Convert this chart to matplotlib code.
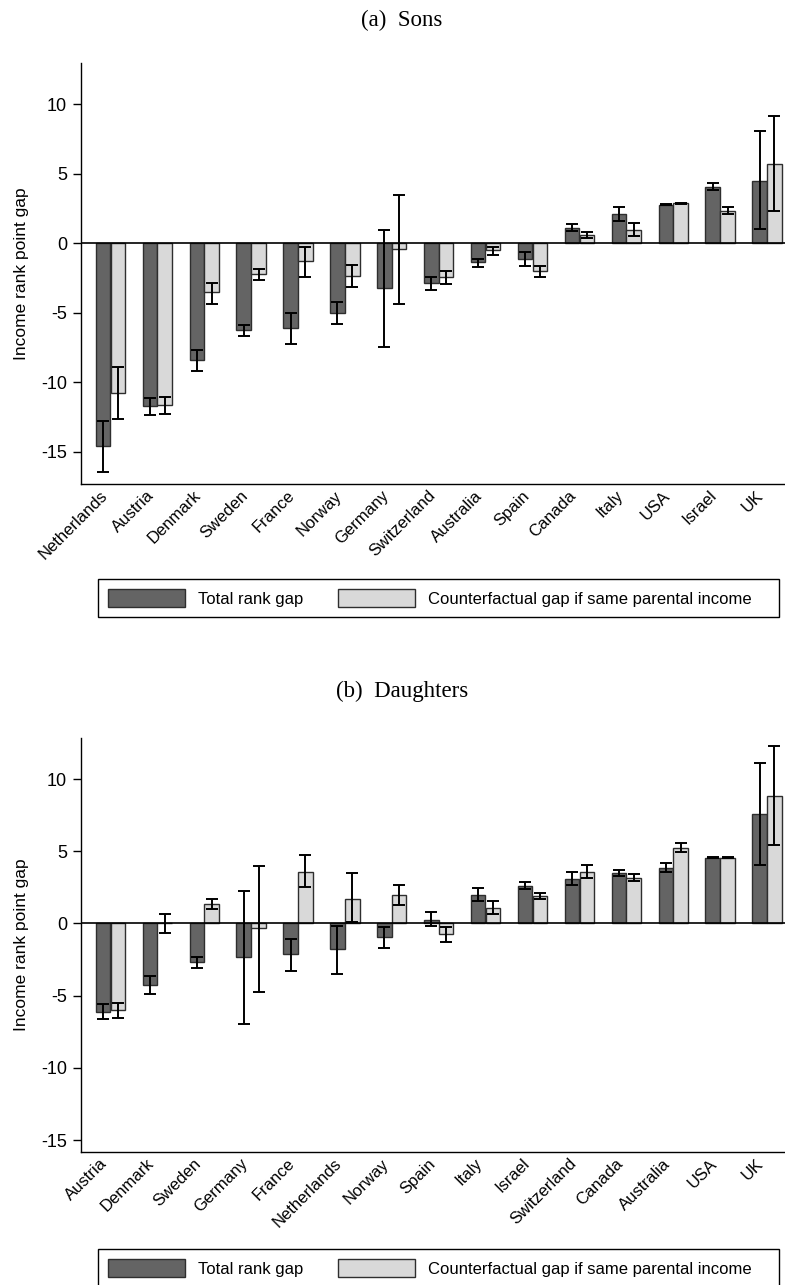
import matplotlib
matplotlib.use('Agg')
import matplotlib.pyplot as plt
import matplotlib.transforms as mtransforms
from matplotlib.patches import Patch, Rectangle
import numpy as np

plt.rcParams['font.family'] = ['Liberation Sans', 'DejaVu Sans']

# (a) Sons
countries_sons = ["Netherlands", "Austria", "Denmark", "Sweden", "France", "Norway", "Germany",
                  "Switzerland", "Australia", "Spain", "Canada", "Italy", "USA", "Israel", "UK"]
total_sons = [-14.58, -11.73, -8.39, -6.27, -6.07, -4.99, -3.23, -2.84, -1.37, -1.11, 1.11, 2.07, 2.77, 4.05, 4.51]
total_sons_lo = [-16.46, -12.36, -9.16, -6.67, -7.25, -5.83, -7.47, -3.37, -1.73, -1.64, 0.89, 1.59, 2.73, 3.81, 1.01]
total_sons_hi = [-12.77, -11.16, -7.66, -5.90, -4.99, -4.22, 0.96, -2.43, -1.13, -0.65, 1.40, 2.58, 2.81, 4.34, 8.07]
cf_sons = [-10.77, -11.66, -3.54, -2.24, -1.28, -2.34, -0.41, -2.46, -0.48, -2.00, 0.58, 0.96, 2.87, 2.29, 5.71]
cf_sons_lo = [-12.65, -12.29, -4.34, -2.65, -2.46, -3.18, -4.34, -2.94, -0.84, -2.46, 0.36, 0.53, 2.83, 2.10, 2.34]
cf_sons_hi = [-8.90, -11.08, -2.84, -1.86, -0.24, -1.57, 3.45, -2.02, -0.24, -1.64, 0.84, 1.45, 2.91, 2.58, 9.13]

# (b) Daughters
countries_daughters = ["Austria", "Denmark", "Sweden", "Germany", "France", "Netherlands", "Norway",
                       "Spain", "Italy", "Israel", "Switzerland", "Canada", "Australia", "USA", "UK"]
total_daughters = [-6.12, -4.27, -2.68, -2.31, -2.15, -1.80, -0.92, 0.25, 1.94, 2.61, 3.09, 3.46, 3.83, 4.55, 7.58]
total_daughters_lo = [-6.65, -4.92, -3.07, -6.97, -3.28, -3.53, -1.69, -0.18, 1.52, 2.38, 2.68, 3.28, 3.58, 4.51, 4.06]
total_daughters_hi = [-5.61, -3.65, -2.36, 2.26, -1.11, -0.16, -0.28, 0.79, 2.42, 2.86, 3.58, 3.72, 4.16, 4.59, 11.13]
cf_daughters = [-6.00, 0.02, 1.32, -0.35, 3.56, 1.71, 1.94, -0.74, 1.06, 1.87, 3.58, 3.16, 5.24, 4.55, 8.80]
cf_daughters_lo = [-6.54, -0.65, 0.97, -4.73, 2.52, 0.09, 1.27, -1.27, 0.67, 1.69, 3.16, 2.96, 4.97, 4.51, 5.40]
cf_daughters_hi = [-5.54, 0.65, 1.69, 3.97, 4.71, 3.46, 2.68, -0.23, 1.52, 2.10, 4.04, 3.39, 5.57, 4.59, 12.29]

yticks = [-15, -10, -5, 0, 5, 10]
legend_labels = ["Total rank gap", "Counterfactual gap if same parental income"]

DARK = '#646464'
LIGHT = '#d9d9d9'
EDGE = '#2e2e2e'

W, H = 785, 1285


def draw_panel(fig, ax, countries, tot, tlo, thi, cf, clo, chi, ylim):
    x = np.arange(len(countries))
    w = 0.31
    off = 0.158
    tot = np.array(tot); cf = np.array(cf)
    ax.bar(x - off, tot, w, color=DARK, edgecolor=EDGE, linewidth=1.0, zorder=2)
    ax.bar(x + off, cf, w, color=LIGHT, edgecolor=EDGE, linewidth=1.0, zorder=2)
    ax.axhline(0, color='black', linewidth=1.2, zorder=3)
    ax.errorbar(x - off, tot, yerr=[tot - np.array(tlo), np.array(thi) - tot], fmt='none',
                ecolor='black', elinewidth=1.4, capsize=4, capthick=1.4, zorder=4)
    ax.errorbar(x + off, cf, yerr=[cf - np.array(clo), np.array(chi) - cf], fmt='none',
                ecolor='black', elinewidth=1.4, capsize=4, capthick=1.4, zorder=4)
    ax.set_xlim(-0.627, 14.384)
    ax.set_ylim(*ylim)
    ax.set_yticks(yticks)
    ax.set_yticklabels([str(t) for t in yticks], fontsize=13)
    ax.tick_params(axis='y', length=6, width=1, pad=4)
    ax.set_xticks(x)
    ax.set_xticklabels(countries, rotation=45, ha='right', va='top',
                       rotation_mode='anchor', fontsize=12)
    ax.tick_params(axis='x', length=0, pad=5)
    # nudge rotated labels to the left, as in the original
    shift = mtransforms.ScaledTranslation(-11 / 100, 3 / 100, fig.dpi_scale_trans)
    for lab in ax.get_xticklabels():
        lab.set_transform(lab.get_transform() + shift)
    ax.set_ylabel("Income rank point gap", fontsize=12.5, labelpad=9)
    for s in ['top', 'right']:
        ax.spines[s].set_visible(False)
    for s in ['left', 'bottom']:
        ax.spines[s].set_linewidth(1.0)


def add_legend(fig, box_top, box_bottom, center_y):
    handles = [Patch(facecolor=DARK, edgecolor=EDGE, linewidth=1.0),
               Patch(facecolor=LIGHT, edgecolor=EDGE, linewidth=1.0)]
    fig.legend(handles, legend_labels, loc='center left',
               bbox_to_anchor=(108 / W, 1 - center_y / H), ncol=2, frameon=False,
               fontsize=12, handlelength=4.6, handleheight=1.2, handletextpad=0.78,
               columnspacing=2.1, borderpad=0, borderaxespad=0)
    fig.add_artist(Rectangle((98 / W, 1 - box_bottom / H), (779 - 98) / W,
                             (box_bottom - box_top) / H, transform=fig.transFigure,
                             fill=False, edgecolor='black', linewidth=1.0))


fig = plt.figure(figsize=(W / 100, H / 100), dpi=100)

ax1 = fig.add_axes([81 / W, 1 - 484 / H, 704 / W, 421 / H])
draw_panel(fig, ax1, countries_sons, total_sons, total_sons_lo, total_sons_hi,
           cf_sons, cf_sons_lo, cf_sons_hi, (-17.32, 12.97))
fig.text(402 / W, 1 - 20 / H, "(a)  Sons", ha='center', va='center',
         fontsize=16.5, family=['Liberation Serif', 'DejaVu Serif'])
add_legend(fig, 579, 617, 598)

ax2 = fig.add_axes([81 / W, 1 - 1152 / H, 704 / W, 414 / H])
draw_panel(fig, ax2, countries_daughters, total_daughters, total_daughters_lo, total_daughters_hi,
           cf_daughters, cf_daughters_lo, cf_daughters_hi, (-15.83, 12.84))
fig.text(402 / W, 1 - 691 / H, "(b)  Daughters", ha='center', va='center',
         fontsize=16.5, family=['Liberation Serif', 'DejaVu Serif'])
add_legend(fig, 1249, 1287, 1268)

fig.savefig('out.png', dpi=100)
